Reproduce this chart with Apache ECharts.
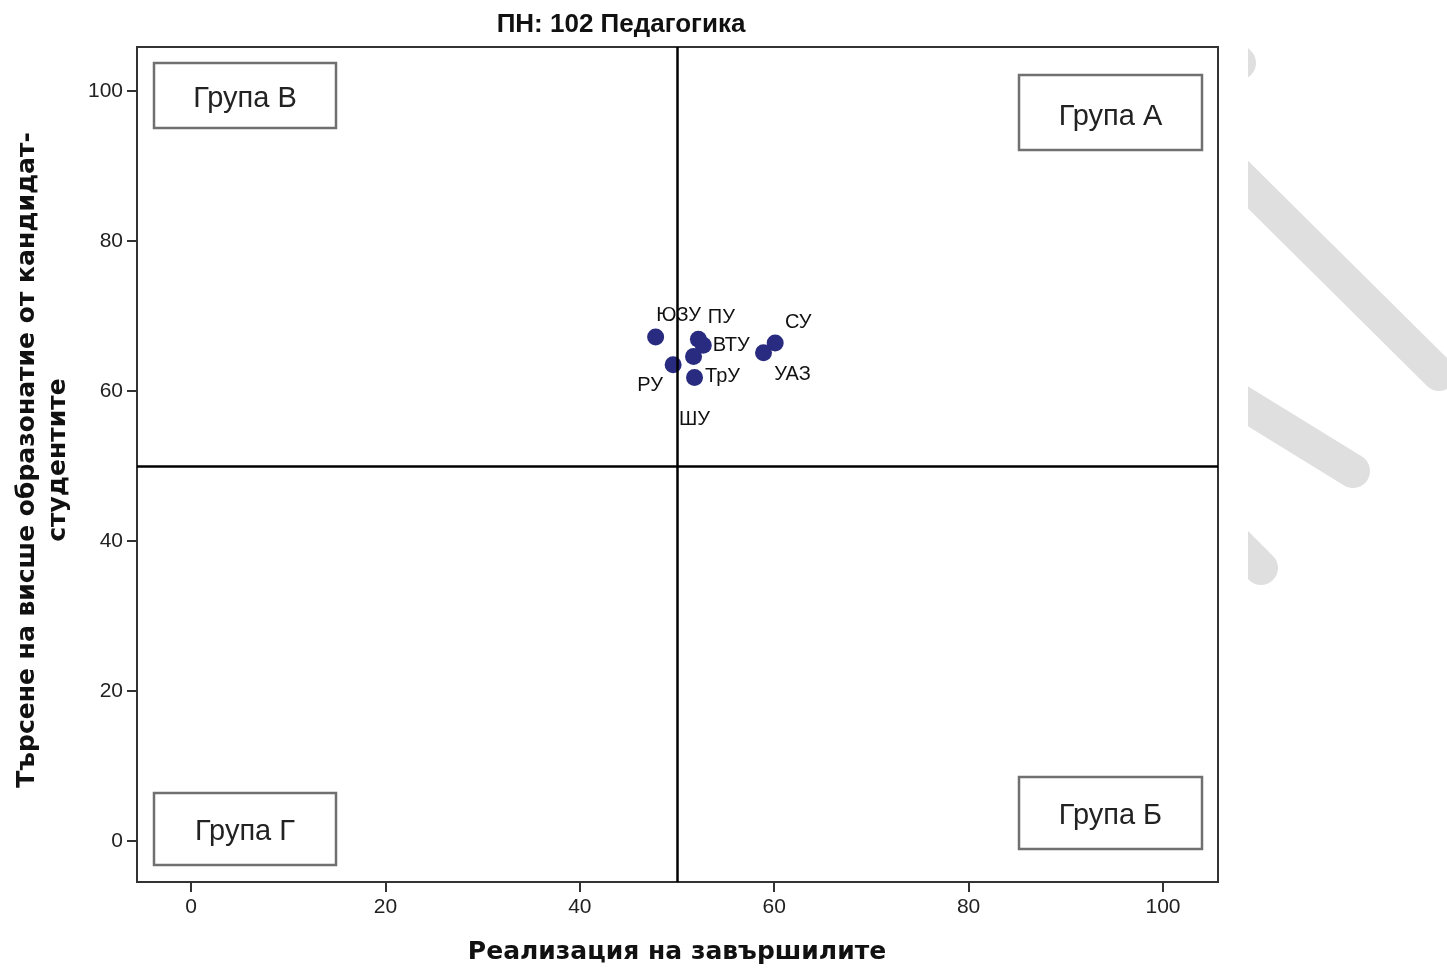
<!DOCTYPE html>
<html>
<head>
<meta charset="utf-8">
<script src="https://cdn.jsdelivr.net/npm/echarts@6/dist/echarts.min.js"></script>
<style>
  html, body { margin: 0; padding: 0; background: #fff; }
  #chart { width: 1447px; height: 969px; }
</style>
</head>
<body>
<div id="chart"></div>
<script>
// ---- data ----
const universities = ['ЮЗУ', 'ПУ', 'ВТУ', 'ШУ', 'РУ', 'ТрУ', 'СУ', 'УАЗ'];
const realization  = [47.8, 52.2, 52.7, 51.7, 49.6, 51.8, 60.1, 58.9];
const demand       = [67.2, 66.9, 66.1, 64.6, 63.5, 61.8, 66.4, 65.1];
const xTickValues  = [0, 20, 40, 60, 80, 100];
const yTickValues  = [0, 20, 40, 60, 80, 100];
const xRange       = [-5.56, 105.66];
const yRange       = [-5.47, 105.87];
const refX = 50;
const refY = 50;
const groupNames = ['Група В', 'Група А', 'Група Г', 'Група Б'];
const chartTitle = 'ПН: 102 Педагогика';
const xTitle = 'Реализация на завършилите';
const yTitle = 'Търсене на висше образонатие от кандидат-\nстудентите';

// ---- styling (label placement per point, in px relative to point) ----
const labelOffsets = {
  'ЮЗУ': [23, -22], 'ПУ': [23, -22], 'ВТУ': [28, 0], 'ШУ': [1, 63],
  'РУ': [-23, 21], 'ТрУ': [28, -1], 'СУ': [23, -21], 'УАЗ': [29, 22]
};
const boxLayout = [
  { x: 154, y: 63, w: 182, h: 65, dy: 3 },
  { x: 1019, y: 75, w: 183, h: 75, dy: 4 },
  { x: 154, y: 793, w: 182, h: 72, dy: 3 },
  { x: 1019, y: 777, w: 183, h: 72, dy: 3 }
];

const points = universities.map((n, i) => ({
  name: n,
  value: [realization[i], demand[i]]
}));

const stripeStyle = { stroke: '#dfdfdf', lineWidth: 34, lineCap: 'round' };
const graphics = [
  // decorative background stripes (right side)
  { type: 'line', z: 0, shape: { x1: 1222, y1: 46, x2: 1239, y2: 63 }, style: stripeStyle, silent: true },
  { type: 'line', z: 0, shape: { x1: 1230, y1: 166.7, x2: 1439, y2: 374 }, style: stripeStyle, silent: true },
  { type: 'line', z: 0, shape: { x1: 1230, y1: 395.3, x2: 1353, y2: 471 }, style: stripeStyle, silent: true },
  { type: 'line', z: 0, shape: { x1: 1230, y1: 537, x2: 1261, y2: 568 }, style: stripeStyle, silent: true },
  { type: 'rect', z: 1, shape: { x: 1204, y: 0, width: 44, height: 969 }, style: { fill: '#fff' }, silent: true },
  // titles
  { type: 'text', z: 5, x: 621, y: 25, style: {
      text: chartTitle, align: 'center', verticalAlign: 'middle',
      font: 'bold 26px "Liberation Sans Narrow", "Liberation Sans", Arial', fill: '#111' } },
  { type: 'text', z: 5, x: 677, y: 952, style: {
      text: xTitle, align: 'center', verticalAlign: 'middle',
      font: 'bold 25px "DejaVu Sans", Verdana, sans-serif', fill: '#111' } },
  { type: 'text', z: 5, x: 43, y: 460, rotation: Math.PI / 2, style: {
      text: yTitle, align: 'center', verticalAlign: 'middle', lineHeight: 31,
      font: 'bold 25px "DejaVu Sans", Verdana, sans-serif', fill: '#111' } }
];
groupNames.forEach((g, i) => {
  const b = boxLayout[i];
  graphics.push({ type: 'rect', z: 5, shape: { x: b.x, y: b.y, width: b.w, height: b.h },
    style: { fill: '#fff', stroke: '#707070', lineWidth: 2.5 } });
  graphics.push({ type: 'text', z: 6, x: b.x + b.w / 2, y: b.y + b.h / 2 + b.dy, style: {
    text: g, align: 'center', verticalAlign: 'middle',
    font: '29px "Liberation Sans", Arial, sans-serif', fill: '#222' } });
});

const chart = echarts.init(document.getElementById('chart'), null, { renderer: 'canvas' });
const tickLabelStyle = { fontFamily: '"Liberation Sans", Arial, sans-serif', fontSize: 21, color: '#222' };
chart.setOption({
  backgroundColor: '#fff',
  animation: false,
  grid: { left: 137, top: 47, width: 1081, height: 835, show: true,
          borderColor: '#333', borderWidth: 2, backgroundColor: 'transparent', z: 3 },
  xAxis: {
    type: 'value', min: xRange[0], max: xRange[1],
    axisLine: { show: false, onZero: false },
    splitLine: { show: false },
    axisTick: { show: true, inside: false, length: 10, customValues: xTickValues,
                lineStyle: { color: '#333', width: 2 } },
    axisLabel: { ...tickLabelStyle, margin: 15, customValues: xTickValues }
  },
  yAxis: {
    type: 'value', min: yRange[0], max: yRange[1],
    axisLine: { show: false, onZero: false },
    splitLine: { show: false },
    axisTick: { show: true, inside: false, length: 10, customValues: yTickValues,
                lineStyle: { color: '#333', width: 2 } },
    axisLabel: { ...tickLabelStyle, margin: 14, customValues: yTickValues }
  },
  graphic: graphics,
  series: [{
    type: 'scatter',
    z: 4,
    symbolSize: 17,
    itemStyle: { color: '#282b7f', opacity: 1 },
    label: { show: true, position: 'inside', formatter: '{b}', align: 'center', verticalAlign: 'middle',
             fontFamily: '"Liberation Sans", Arial, sans-serif', fontSize: 20, color: '#111' },
    labelLayout: function (params) {
      const off = labelOffsets[universities[params.dataIndex]] || [0, 0];
      return { dx: off[0], dy: off[1], hideOverlap: false };
    },
    data: points,
    markLine: {
      silent: true, symbol: 'none', animation: false,
      label: { show: false },
      lineStyle: { color: '#000', width: 2.5, type: 'solid' },
      data: [{ xAxis: refX }, { yAxis: refY }]
    }
  }]
});
</script>
</body>
</html>
